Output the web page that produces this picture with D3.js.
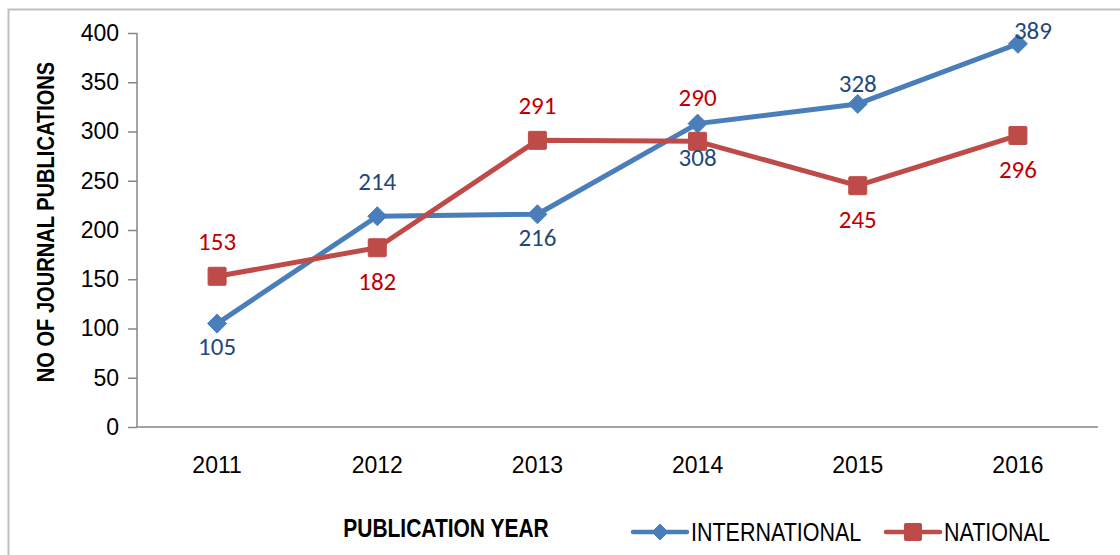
<!DOCTYPE html>
<html>
<head>
<meta charset="utf-8">
<script src="https://cdn.jsdelivr.net/npm/d3@7"></script>
<style>
    body { margin: 0; background: #fff; }
    svg { display: block; }
</style>
</head>
<body>
<svg></svg>
<script>
    //-------------------
    // DATA
    //-------------------
    var years = ["2011", "2012", "2013", "2014", "2015", "2016"];
    var international = [105, 214, 216, 308, 328, 389];
    var national = [153, 182, 291, 290, 245, 296];
    var yTicks = [0, 50, 100, 150, 200, 250, 300, 350, 400];
    // where each data label sits relative to its marker
    var internationalLabelPos = ["belowNear", "above", "belowNear", "below", "aboveNear", "right"];
    var nationalLabelPos = ["above", "below", "above", "aboveFar", "below", "below"];

    //-------------------
    // GLOBAL VARIABLES
    //-------------------
    var width = 1120,
        height = 555;

    var svg = d3.select("svg")
        .attr("width", width)
        .attr("height", height);

    var tickFont = "'Liberation Sans', Arial, sans-serif";
    var boldFont = "'Liberation Sans', Arial, sans-serif";
    var labelFont = "Carlito, Calibri, Roboto, sans-serif";

    var labelOffsets = {
        above: [0, -35], aboveNear: [0, -21], aboveFar: [0, -44],
        below: [0, 34], belowNear: [0, 23], right: [15, -14]
    };

    // chart frame
    svg.append("path")
        .attr("d", "M8.5,560 V9.5 H1125")
        .attr("fill", "none")
        .attr("stroke", "#bfbfbf")
        .attr("stroke-width", 2);

    var x = d3.scaleBand()
        .domain(years)
        .range([137, 1098]);

    var y = d3.scaleLinear()
        .domain([0, 400])
        .range([427, 33]);

    //------------
    //  AXES
    //------------
    var yAxis = d3.axisLeft(y)
        .tickValues(yTicks)
        .tickSize(9)
        .tickPadding(9);

    var gy = svg.append("g")
        .attr("transform", "translate(137,0)")
        .call(yAxis);
    gy.selectAll("path, line").attr("stroke", "#868686").attr("stroke-width", 1.5);
    gy.select("path.domain").attr("d", "M0," + y(400) + " V" + y(0));
    gy.selectAll("text")
        .attr("font-family", tickFont)
        .attr("font-size", 23)
        .attr("fill", "#000");

    var xAxis = d3.axisBottom(x).tickSize(0).tickPadding(30);
    var gx = svg.append("g")
        .attr("transform", "translate(0," + y(0) + ")")
        .call(xAxis);
    gx.select("path.domain")
        .attr("stroke", "#868686")
        .attr("stroke-width", 1.5)
        .attr("d", "M137,0 H1098");
    gx.selectAll("text")
        .attr("font-family", tickFont)
        .attr("font-size", 23)
        .attr("fill", "#000");

    // axis titles (condensed by horizontal scaling, no narrow font here)
    svg.append("g")
        .attr("transform", "translate(54,222) rotate(-90) scale(0.82,1)")
        .append("text")
        .attr("text-anchor", "middle")
        .attr("font-family", boldFont)
        .attr("font-weight", "bold")
        .attr("font-size", 24.5)
        .text("NO OF JOURNAL PUBLICATIONS");

    svg.append("g")
        .attr("transform", "translate(446,537) scale(0.82,1)")
        .append("text")
        .attr("text-anchor", "middle")
        .attr("font-family", boldFont)
        .attr("font-weight", "bold")
        .attr("font-size", 25.6)
        .text("PUBLICATION YEAR");

    //------------
    //  SERIES
    //------------
    var series = [
        { name: "INTERNATIONAL", values: international, labelPos: internationalLabelPos,
          color: "#4a7ebb", labelColor: "#1f497d", marker: "diamond" },
        { name: "NATIONAL", values: national, labelPos: nationalLabelPos,
          color: "#be4b48", labelColor: "#c00000", marker: "square" }
    ];

    function cx(i) { return x(years[i]) + x.bandwidth() / 2; }

    function drawMarker(g, type, px, py, size) {
        if (type === "diamond") {
            var h = size / 2;
            g.append("path")
                .attr("d", "M" + px + "," + (py - h) + " L" + (px + h) + "," + py +
                    " L" + px + "," + (py + h) + " L" + (px - h) + "," + py + "Z")
                .attr("fill", "#4a7ebb")
                .attr("stroke", "#4a7ebb")
                .attr("stroke-linejoin", "round")
                .attr("stroke-width", 1);
        } else {
            g.append("rect")
                .attr("x", px - size / 2)
                .attr("y", py - size / 2)
                .attr("width", size)
                .attr("height", size)
                .attr("rx", 1)
                .attr("fill", "#be4b48")
                .attr("stroke", "#be4b48")
                .attr("stroke-width", 1);
        }
    }

    var line = d3.line()
        .x((d, i) => cx(i))
        .y(d => y(d));

    series.forEach(s => {
        var g = svg.append("g");
        g.append("path")
            .datum(s.values)
            .attr("d", line)
            .attr("fill", "none")
            .attr("stroke", s.color)
            .attr("stroke-width", 5)
            .attr("stroke-linejoin", "round");
        s.values.forEach((v, i) => {
            drawMarker(g, s.marker, cx(i), y(v), s.marker === "diamond" ? 19 : 18);
        });
    });

    // data labels drawn on top
    series.forEach(s => {
        s.values.forEach((v, i) => {
            var off = labelOffsets[s.labelPos[i]];
            svg.append("text")
                .attr("x", cx(i) + off[0])
                .attr("y", y(v) + off[1])
                .attr("dy", "0.35em")
                .attr("text-anchor", "middle")
                .attr("font-family", labelFont)
                .attr("font-size", 25)
                .attr("fill", s.labelColor)
                .text(v);
        });
    });

    //------------
    //  LEGEND
    //------------
    var legendX = [633, 886];
    series.forEach((s, i) => {
        var g = svg.append("g");
        var lx = legendX[i], ly = 532;
        g.append("line")
            .attr("x1", lx).attr("x2", lx + 54)
            .attr("y1", ly).attr("y2", ly)
            .attr("stroke", s.color)
            .attr("stroke-width", 4.5)
            .attr("stroke-linecap", "round");
        drawMarker(g, s.marker, lx + 27, ly, s.marker === "diamond" ? 16 : 17);
        g.append("g")
            .attr("transform", "translate(" + (lx + 58) + "," + ly + ") scale(0.86,1)")
            .append("text")
            .attr("dy", "0.35em")
            .attr("font-family", tickFont)
            .attr("font-size", 25)
            .attr("fill", "#000")
            .text(s.name);
    });
</script>
</body>
</html>
